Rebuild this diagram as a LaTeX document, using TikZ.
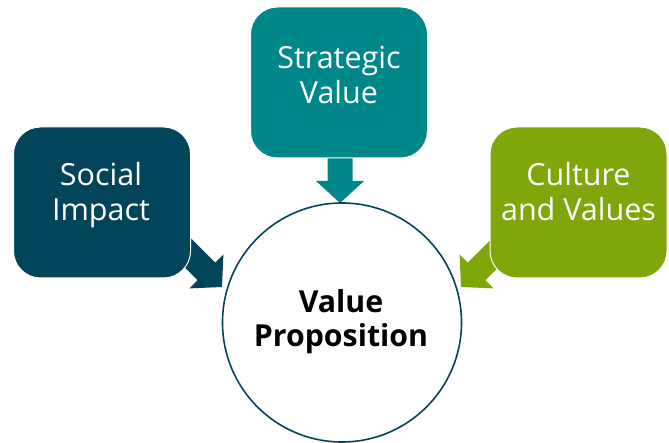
\documentclass[tikz,border=0pt]{standalone}
\usepackage{fontspec}
\setmainfont{Open Sans}
\usetikzlibrary{calc}
\definecolor{siColor}{HTML}{02455A}
\definecolor{svColor}{HTML}{00878A}
\definecolor{cvColor}{HTML}{7FA60A}
\newcommand\blockarr[3]{%
  \coordinate (#2h) at ($(#3)!22pt!(#2)$);
  \fill[#1] ($(#2)!12.5pt!90:(#3)$) -- ($(#2h)!12.5pt!90:(#3)$) -- ($(#2h)!24pt!90:(#3)$) -- (#3)
     -- ($(#2h)!24pt!-90:(#3)$) -- ($(#2h)!12.5pt!-90:(#3)$) -- ($(#2)!12.5pt!-90:(#3)$) -- cycle;}
\begin{document}
\begin{tikzpicture}[x=1pt,y=-1pt,
  box/.style={rounded corners=27pt, minimum width=177pt, minimum height=151pt, draw=white, line width=1pt, inner sep=0pt},
  boxtext/.style={text=white, font=\fontsize{30.5}{35}\selectfont, align=center, inner sep=0pt},
  centertext/.style={text=black, font=\fontsize{30.3}{34.5}\selectfont\bfseries, align=center, inner sep=0pt}]
\useasboundingbox (0,0) rectangle (669,443);
% arrow coordinates
\coordinate (sib) at (162,227);
\coordinate (sit) at (222,287);
\coordinate (svb) at (340,140);
\coordinate (svt) at (340,203);
\coordinate (cvb) at (521,227);
\coordinate (cvt) at (461,287);
\blockarr{siColor}{sib}{sit}
\blockarr{svColor}{svb}{svt}
\blockarr{cvColor}{cvb}{cvt}
% boxes
\node[box, fill=siColor] (si) at (102,202.5) {};
\node[box, fill=svColor] (sv) at (339,82.5) {};
\node[box, fill=cvColor] (cv) at (578.5,202.5) {};
\node[boxtext] (silabel) at (101,195.5) {Social\\Impact};
\node[boxtext] (svlabel) at (339,74.5) {Strategic\\Value};
\node[boxtext] (cvlabel) at (578.5,192) {Culture\\and Values};
% circle
\node[circle, draw=siColor, line width=1.6pt, fill=white, minimum size=239pt, inner sep=0pt] (vp) at (342,322.5) {};
\node[centertext] (vplabel) at (341,321.5) {Value\\Proposition};
\end{tikzpicture}
\end{document}
